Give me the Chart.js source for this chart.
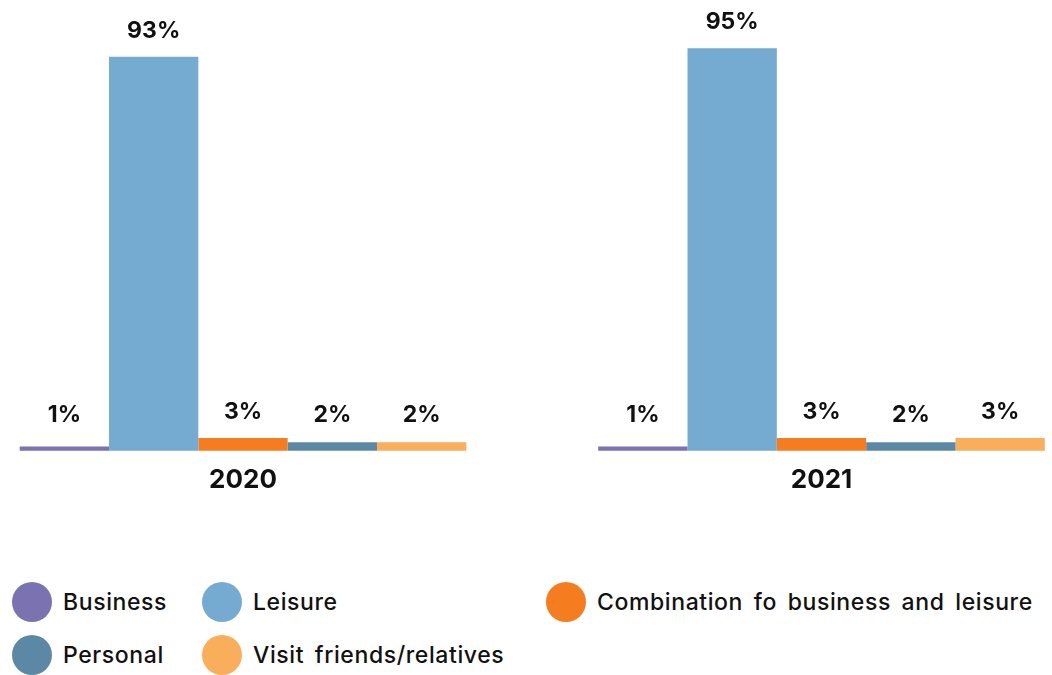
<!DOCTYPE html>
<html>
<head>
<meta charset="utf-8">
<script src="https://cdn.jsdelivr.net/npm/chart.js@4/dist/chart.umd.min.js"></script>
<style>
  html, body { margin: 0; padding: 0; background: #fff; }
  #wrap { position: relative; width: 1052px; height: 675px; overflow: hidden; }
  #c { position: absolute; left: 0; top: 0; }
  .item { position: absolute; display: flex; align-items: center; font-family: Inter, "Noto Sans", sans-serif; font-size: 23px; font-weight: 500; letter-spacing: 0.6px; word-spacing: 4px; color: #111; white-space: nowrap; }
  .dot { width: 40px; height: 40px; border-radius: 50%; margin-right: 11px; flex: none; }
</style>
</head>
<body>
<div id="wrap">
  <canvas id="c" width="1052" height="540"></canvas>
  <div id="legend"></div>
</div>
<script>
// ---- data ----
const categories = ['2020', '2021'];
const business = [1, 1];
const leisure = [93, 95];
const combination = [3, 3];
const personal = [2, 2];
const visitFriends = [2, 3];
const colors = {
  business: '#7b72b2',
  leisure: '#75abd0',
  combination: '#f57d20',
  personal: '#5c88a6',
  visit: '#f9ae5c'
};

const datasets = [
  { label: 'Business', data: business, backgroundColor: colors.business },
  { label: 'Leisure', data: leisure, backgroundColor: colors.leisure },
  { label: 'Combination fo business and leisure', data: combination, backgroundColor: colors.combination },
  { label: 'Personal', data: personal, backgroundColor: colors.personal },
  { label: 'Visit friends/relatives', data: visitFriends, backgroundColor: colors.visit }
].map(d => Object.assign(d, { clip: false, borderWidth: 0, barPercentage: 1, categoryPercentage: 0.772 }));

const valueLabels = {
  id: 'valueLabels',
  afterDatasetsDraw(chart) {
    const ctx = chart.ctx;
    const base = chart.scales.y.getPixelForValue(0);
    ctx.save();
    ctx.font = '700 23px Inter, "Noto Sans", sans-serif';
    ctx.fillStyle = '#111';
    ctx.textAlign = 'center';
    ctx.textBaseline = 'middle';
    chart.data.datasets.forEach((ds, di) => {
      const meta = chart.getDatasetMeta(di);
      meta.data.forEach((bar, i) => {
        const y = Math.min(bar.y - 26, base - 36);
        ctx.fillText(ds.data[i] + '%', bar.x, y);
      });
    });
    ctx.restore();
  }
};

new Chart(document.getElementById('c'), {
  type: 'bar',
  data: { labels: categories, datasets },
  options: {
    responsive: false,
    animation: false,
    layout: { padding: { left: 243, right: 230.5, top: 27, bottom: 30 } },
    plugins: { legend: { display: false }, tooltip: { enabled: false } },
    scales: {
      x: {
        offset: false,
        grid: { display: false, drawTicks: false },
        border: { display: false },
        ticks: { color: '#111', padding: 14, font: { family: 'Inter', size: 26, weight: '700' } }
      },
      y: { display: false, min: 0, max: 100 }
    }
  },
  plugins: [valueLabels]
});

// ---- legend (HTML) ----
const legendItems = [
  { name: 'Business', color: colors.business, left: 12, top: 582 },
  { name: 'Leisure', color: colors.leisure, left: 202, top: 582 },
  { name: 'Combination fo business and leisure', color: colors.combination, left: 546, top: 582 },
  { name: 'Personal', color: colors.personal, left: 12, top: 635 },
  { name: 'Visit friends/relatives', color: colors.visit, left: 202, top: 635 }
];
const lg = document.getElementById('legend');
legendItems.forEach(it => {
  const d = document.createElement('div');
  d.className = 'item';
  d.style.left = it.left + 'px';
  d.style.top = it.top + 'px';
  const dot = document.createElement('span');
  dot.className = 'dot';
  dot.style.background = it.color;
  const t = document.createElement('span');
  t.textContent = it.name;
  d.appendChild(dot); d.appendChild(t);
  lg.appendChild(d);
});
</script>
</body>
</html>
